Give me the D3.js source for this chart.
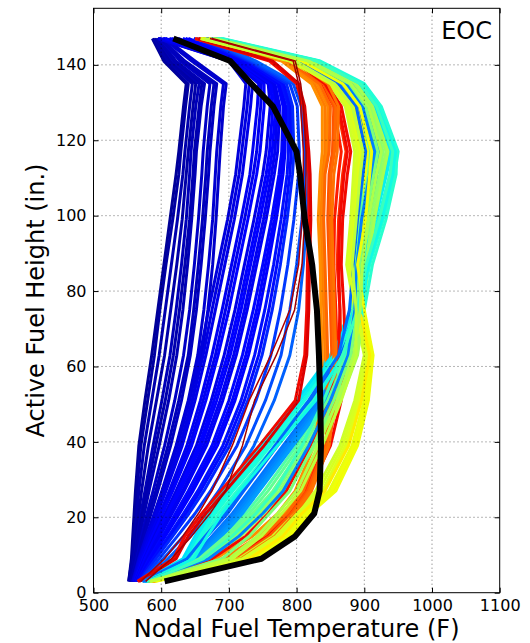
<!DOCTYPE html>
<html><head><meta charset="utf-8">
<script src="https://cdn.jsdelivr.net/npm/d3@7"></script>
<style>body{margin:0;background:#fff} svg text{font-family:"DejaVu Sans",sans-serif;fill:#000}</style>
</head><body><svg id="c" width="530" height="643"></svg>
<script>
// ---------- data ----------
const heights = [3,9,15,21,27,39,51,63,75,87,99,111,117,129,135,141,147];
const xTicks = [500,600,700,800,900,1000,1100];
const yTicks = [0,20,40,60,80,100,120,140];
const stateLabel = "EOC";

// cold (peripheral) assemblies, left bundle
const leftBundleTemps = [
 [552,556,558,560,562,567,576,586,595,604,613,622,626,633,637,604,587],
 [552,557,560,562,564,570,580,590,598,607,617,626,629,636,640,606,588],
 [553,558,561,564,567,575,586,597,606,615,624,632,635,642,646,610,590],
 [553,559,563,567,571,581,593,605,614,623,631,637,640,647,651,614,592],
 [554,560,565,570,576,588,601,613,622,630,637,642,644,651,656,618,594],
 [554,561,566,572,579,592,606,618,627,635,642,647,649,656,660,620,595],
 [555,562,568,575,582,597,611,623,632,639,645,650,652,659,664,622,596],
 [556,564,571,579,588,605,620,633,642,649,655,660,662,668,672,628,598],
 [556,565,573,582,592,610,626,640,648,655,661,666,668,674,678,632,599],
 [557,566,575,585,595,614,630,643,652,659,665,670,672,678,682,635,600],
 [558,568,579,590,601,622,640,654,663,670,676,680,682,688,692,645,603],
 [559,570,582,594,606,628,646,660,669,676,681,685,687,692,696,650,606]
];
const leftBundleLevel = [0.02,0.03,0.04,0.035,0.05,0.04,0.045,0.06,0.05,0.055,0.07,0.065];

const middleBundleTemps = [
 [558,567,578,590,602,624,642,657,670,684,698,710,714,722,725,700,595],
 [559,568,580,592,605,628,646,662,675,689,703,715,719,727,730,701,596],
 [559,569,581,594,607,631,650,666,680,694,708,720,724,732,735,703,598],
 [560,571,584,598,612,638,658,675,690,704,718,731,735,742,744,706,602],
 [561,572,586,600,615,642,662,680,695,709,723,736,741,747,748,707,604],
 [561,573,587,602,617,645,666,684,700,714,728,741,746,752,752,709,606],
 [562,575,590,606,622,652,674,693,709,723,737,750,755,761,758,712,612],
 [563,576,592,609,625,656,678,698,714,728,742,755,760,765,761,713,615],
 [563,577,594,611,628,659,682,702,718,732,746,759,764,769,764,715,618],
 [564,579,596,614,632,663,687,707,723,737,751,763,768,772,766,716,622],
 [564,580,598,616,634,667,691,711,727,741,755,767,772,775,768,718,625],
 [565,582,602,621,640,675,700,720,736,750,763,774,778,780,772,721,632],
 [566,584,604,624,644,679,705,725,741,754,767,777,781,782,774,722,636],
 [566,585,606,627,647,683,709,729,745,758,770,780,783,784,775,724,640],
 [567,588,611,633,654,691,718,738,753,766,777,786,788,788,778,727,648],
 [568,590,614,637,658,696,723,744,759,771,782,790,792,791,781,728,652]
];
const middleBundleLevel = [0.08,0.085,0.09,0.1,0.095,0.11,0.09,0.115,0.12,0.1,0.1,0.13,0.12,0.11,0.14,0.135];

const lightBlueTemps = [
 [568,592,617,641,663,701,728,749,764,776,786,794,796,794,785,730,655],
 [570,597,624,650,673,712,740,762,776,787,796,803,804,801,790,733,660],
 [572,603,633,661,685,725,754,777,790,800,808,812,812,807,795,736,665],
 [575,610,643,672,697,737,767,790,803,810,815,817,816,810,800,740,670]
];
const lightBlueLevel = [0.16,0.18,0.2,0.22];

// hot assemblies
const cyanTemps = [
 [572,632,650,668,690,745,800,850,880,893,912,930,936,915,890,825,680],
 [575,638,655,675,700,755,810,858,888,900,920,938,945,922,895,830,685],
 [574,634,652,670,693,748,803,853,883,895,915,932,938,917,892,827,684],
 [578,642,660,680,706,762,818,865,895,908,928,945,950,925,900,835,690],
 [576,636,653,672,695,750,805,855,885,896,916,933,940,918,892,828,682],
 [579,640,658,678,703,758,812,860,890,904,924,940,944,921,897,833,686],
 [580,645,664,685,712,768,825,870,900,912,932,947,948,920,896,832,688],
 [577,648,668,690,716,772,828,868,896,906,926,942,946,919,894,830,683],
 [579,662,705,740,768,808,840,868,890,903,922,938,942,918,894,830,684]
];
const cyanLevel = [0.35,0.37,0.34,0.39,0.36,0.38,0.4,0.37,0.42];

const azureTemps = [
 [574,645,675,705,730,780,830,870,885,890,895,905,910,895,870,810,672],
 [575,648,678,708,734,784,834,874,888,892,898,908,914,898,872,812,674],
 [576,650,682,712,738,788,838,878,890,893,900,912,918,900,875,815,675],
 [573,640,668,698,722,772,822,865,880,886,892,900,905,890,865,805,668],
 [577,652,686,716,742,792,842,880,891,894,902,915,920,902,878,816,676],
 [578,655,690,720,745,795,845,882,892,895,905,918,922,905,880,818,678],
 [572,638,665,694,718,768,818,862,878,884,890,898,902,888,862,802,666],
 [576,670,715,750,780,818,850,876,886,889,896,908,914,898,874,812,674]
];
const azureLevel = [0.24,0.25,0.26,0.22,0.27,0.28,0.23,0.25];

const greenTemps = [
 [580,660,700,735,765,810,850,878,888,890,898,910,915,900,875,812,675],
 [581,664,705,740,770,815,854,882,892,894,903,916,922,904,878,816,678],
 [582,668,710,745,775,820,858,885,895,898,908,922,928,908,882,820,680],
 [578,652,690,725,752,800,842,872,882,885,892,902,908,895,870,808,670],
 [583,672,714,748,778,824,862,888,898,902,912,925,932,910,885,822,682],
 [585,675,718,752,782,828,865,890,900,905,915,928,935,912,888,825,684],
 [579,656,695,730,758,805,846,875,885,888,895,906,912,898,872,810,672],
 [581,690,730,760,790,825,855,880,890,893,902,914,920,902,878,815,676],
 [583,700,742,772,800,832,860,884,894,897,906,918,925,906,880,818,678]
];
const greenLevel = [0.48,0.5,0.52,0.45,0.53,0.55,0.47,0.5,0.56];

const yellowTemps = [
 [588,735,785,812,848,882,900,910,895,885,895,900,902,885,860,800,665],
 [586,728,778,806,840,874,894,906,892,880,888,893,896,880,854,797,661],
 [590,742,790,818,855,888,905,912,898,888,900,905,908,890,865,805,668],
 [585,725,775,805,838,872,892,905,890,878,885,890,893,878,852,795,660],
 [589,738,788,815,852,885,902,911,896,886,898,902,905,888,862,802,666],
 [583,715,765,798,828,864,886,900,886,874,880,884,886,872,848,790,658],
 [587,730,780,808,842,877,896,908,893,882,890,896,898,882,856,798,662],
 [584,720,770,801,833,868,889,902,888,876,882,887,890,875,850,792,659],
 [592,745,792,820,858,890,906,913,900,890,902,908,911,893,868,808,670],
 [584,705,748,778,806,838,866,888,888,882,888,894,898,882,856,798,664]
];
const yellowLevel = [0.63,0.62,0.65,0.62,0.64,0.6,0.66,0.61,0.64,0.58];

const orangeTemps = [
 [582,690,745,780,805,832,840,842,840,838,836,838,842,842,826,782,655],
 [583,695,748,783,808,834,842,844,842,840,838,840,845,846,830,785,656],
 [584,700,752,786,810,836,845,846,844,842,840,842,848,850,834,788,658],
 [580,680,735,772,798,826,836,838,836,835,832,835,838,838,822,778,650],
 [586,710,760,792,816,842,850,852,850,848,846,848,853,855,840,792,662],
 [587,714,764,795,819,845,853,855,853,851,849,851,856,858,843,795,664],
 [588,718,768,798,822,848,856,858,856,854,852,855,860,862,846,798,665]
];
const orangeLevel = [0.78,0.77,0.8,0.76,0.82,0.8,0.79];

const redTemps = [
 [583,695,750,785,812,842,855,860,858,855,856,862,866,855,835,790,670],
 [585,700,754,788,815,846,860,866,864,860,862,868,873,860,840,794,672],
 [586,705,758,792,818,850,866,872,870,866,868,875,880,866,845,798,674],
 [565,618,635,660,688,745,798,812,815,816,818,818,816,810,800,760,650],
 [567,622,640,666,695,752,803,815,818,819,821,820,818,812,803,765,655],
 [580,675,725,758,785,820,848,862,864,862,864,870,875,862,842,796,672]
];
const redLevel = [0.88,0.86,0.9,0.9,0.92,0.9];

const darkRedTemps = [
 [577,615,645,672,695,720,738,770,797,808,812,814,814,810,806,798,675],
 [570,605,632,655,675,705,730,762,790,803,808,810,810,806,803,795,672]
];
const darkRedLevel = [0.97,0.96];

// core average profile (black)
const averageTemps = [605,748,798,826,834,836,835,833,830,823,812,805,800,765,733,702,618];

// ---------- drawing ----------
const svg = d3.select("#c");
const x = d3.scaleLinear().domain([500,1100]).range([93.5,499.7]);
const y = d3.scaleLinear().domain([0,155]).range([592.7,8.3]);

const seg = (stops) => d3.scaleLinear().domain(stops.map(s=>s[0])).range(stops.map(s=>s[1])).clamp(true);
const jr = seg([[0,0],[0.35,0],[0.66,1],[0.89,1],[1,0.5]]);
const jg = seg([[0,0],[0.125,0],[0.375,1],[0.64,1],[0.91,0],[1,0]]);
const jb = seg([[0,0.5],[0.11,1],[0.34,1],[0.65,0],[1,0]]);
const jet = v => d3.rgb(jr(v)*255, jg(v)*255, jb(v)*255).toString();

const line = d3.line().x(d=>x(d[0])).y(d=>y(d[1]));

svg.append("defs").append("clipPath").attr("id","clip")
  .append("rect").attr("x",x(500)).attr("y",y(155)).attr("width",x(1100)-x(500)).attr("height",y(0)-y(155));

const plot = svg.append("g").attr("clip-path","url(#clip)");

function drawSet(temps, levels, width){
  temps.forEach((t,i)=>{
    plot.append("path")
      .attr("d", line(d3.zip(t, heights)))
      .attr("fill","none")
      .attr("stroke", jet(levels[i]))
      .attr("stroke-width", width)
      .attr("stroke-linejoin","round");
  });
}
drawSet(leftBundleTemps, leftBundleLevel, 3);
drawSet(middleBundleTemps, middleBundleLevel, 3);
drawSet(lightBlueTemps, lightBlueLevel, 3);

// hot families interleaved
const fam = [[orangeTemps,orangeLevel],[cyanTemps,cyanLevel],[yellowTemps,yellowLevel],[azureTemps,azureLevel],[greenTemps,greenLevel],[redTemps,redLevel]];
const maxN = d3.max(fam, f=>f[0].length);
for(let i=0;i<maxN;i++){
  fam.forEach(f=>{ if(i<f[0].length) drawSet([f[0][i]],[f[1][i]],3); });
}
drawSet(darkRedTemps, darkRedLevel, 1.5);

plot.append("path").attr("d", line(d3.zip(averageTemps, heights)))
  .attr("fill","none").attr("stroke","#000").attr("stroke-width",6).attr("stroke-linejoin","round");

// grid
const grid = svg.append("g").attr("stroke","#000").attr("stroke-width",0.8).attr("stroke-dasharray","1,3").attr("opacity",0.7);
xTicks.slice(1,-1).forEach(v=>grid.append("line").attr("x1",x(v)).attr("x2",x(v)).attr("y1",y(0)).attr("y2",y(155)));
yTicks.slice(1).forEach(v=>grid.append("line").attr("x1",x(500)).attr("x2",x(1100)).attr("y1",y(v)).attr("y2",y(v)));

// frame
svg.append("rect").attr("x",x(500)).attr("y",y(155)).attr("width",x(1100)-x(500)).attr("height",y(0)-y(155))
  .attr("fill","none").attr("stroke","#000").attr("stroke-width",1);

// axes with inward ticks
const fmt = d3.format("d");
const axB = svg.append("g").attr("transform",`translate(0,${y(0)})`).call(d3.axisBottom(x).tickValues(xTicks).tickFormat(fmt).tickSizeInner(-5).tickSizeOuter(0).tickPadding(7));
const axT = svg.append("g").attr("transform",`translate(0,${y(155)})`).call(d3.axisTop(x).tickValues(xTicks).tickSizeInner(-5).tickSizeOuter(0).tickFormat(""));
const axL = svg.append("g").attr("transform",`translate(${x(500)},0)`).call(d3.axisLeft(y).tickValues(yTicks).tickFormat(fmt).tickSizeInner(-5).tickSizeOuter(0).tickPadding(7));
const axR = svg.append("g").attr("transform",`translate(${x(1100)},0)`).call(d3.axisRight(y).tickValues(yTicks).tickSizeInner(-5).tickSizeOuter(0).tickFormat(""));
[axB,axT,axL,axR].forEach(a=>{ a.select(".domain").remove(); a.selectAll("line").attr("stroke","#000"); a.selectAll("text").attr("font-size",16).attr("font-family","DejaVu Sans"); });

svg.append("text").attr("x",(x(500)+x(1100))/2).attr("y",637).attr("text-anchor","middle").attr("font-size",24).text("Nodal Fuel Temperature (F)");
svg.append("text").attr("transform",`translate(44,${(y(0)+y(155))/2}) rotate(-90)`).attr("text-anchor","middle").attr("font-size",24).text("Active Fuel Height (in.)");
svg.append("text").attr("x",492).attr("y",39).attr("text-anchor","end").attr("font-size",24).text(stateLabel);
</script></body></html>
